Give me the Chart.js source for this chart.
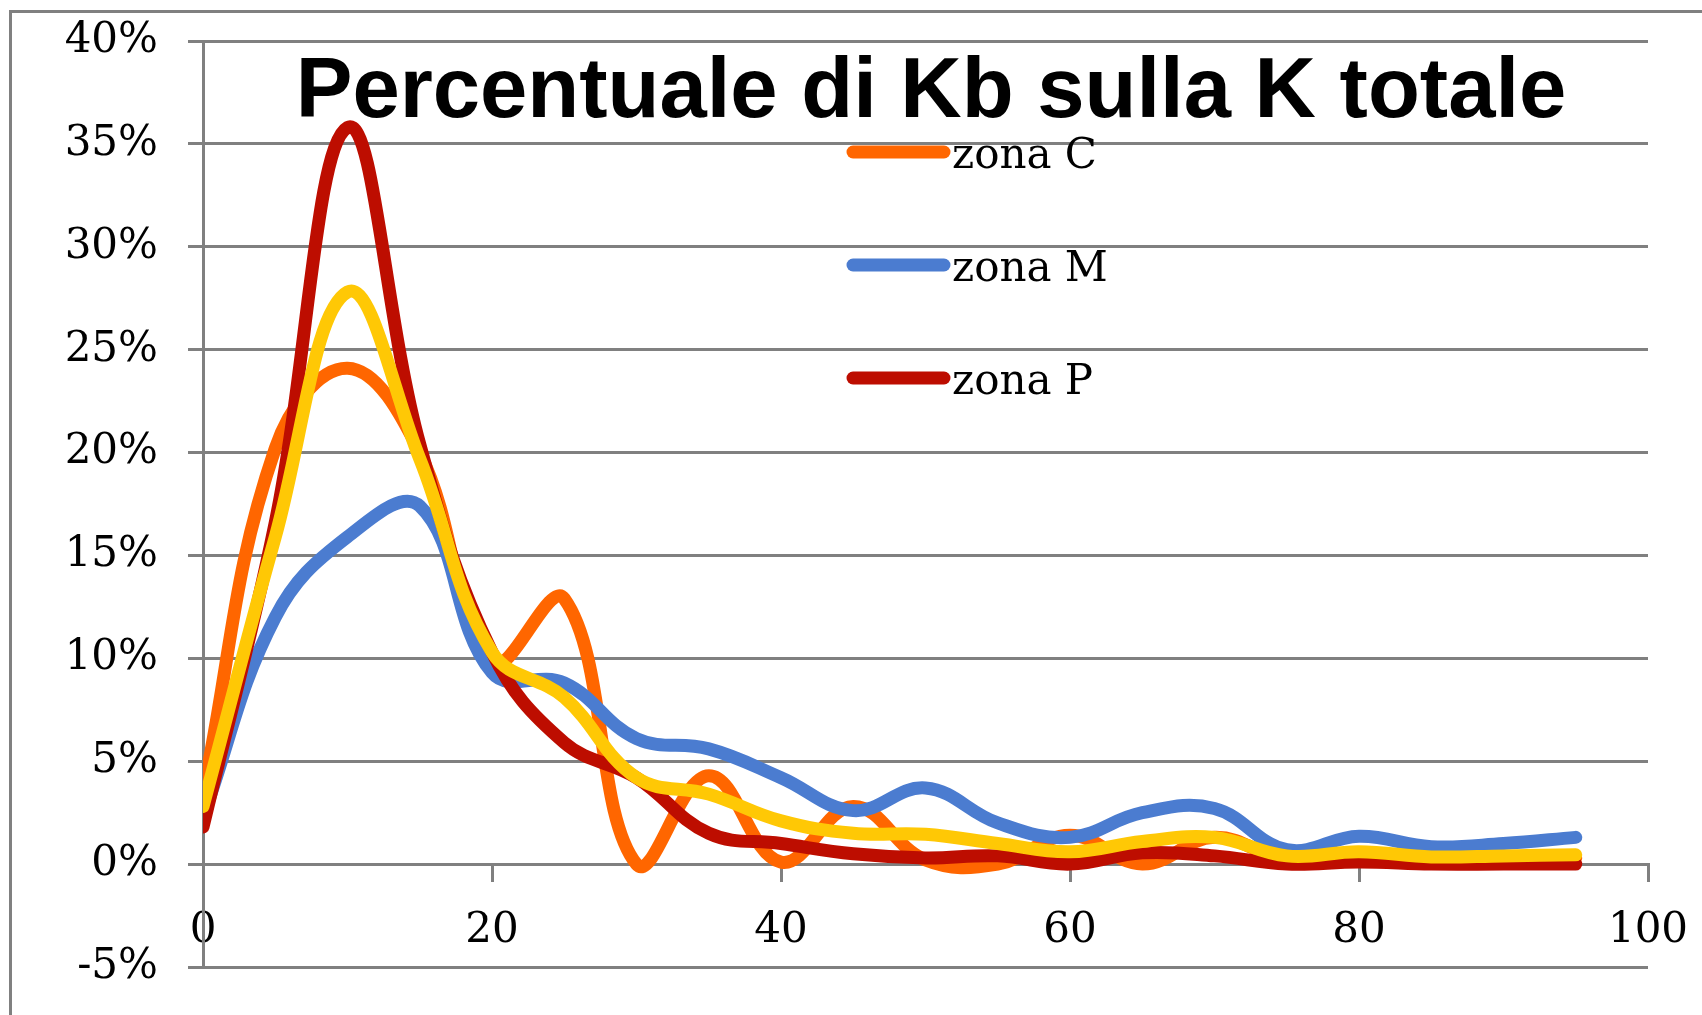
<!DOCTYPE html>
<html>
<head>
<meta charset="utf-8">
<script src="https://cdn.jsdelivr.net/npm/chart.js@4.4.1/dist/chart.umd.min.js"></script>
<style>
  html, body { margin: 0; padding: 0; background: #fff; overflow: hidden; }
  #wrap { position: relative; width: 1702px; height: 1015px; overflow: hidden; }
  #frame { position: absolute; left: 9px; top: 10px; width: 1800px; height: 1100px; border: 3px solid #808080; }
  #c { position: absolute; left: 0; top: 0; }
</style>
</head>
<body>
<div id="wrap">
  <div id="frame"></div>
  <canvas id="c" width="1702" height="1015"></canvas>
</div>
<script>
// data (percent)
const xValues = [0, 5, 10, 15, 20, 25, 30, 35, 40, 45, 50, 55, 60, 65, 70, 75, 80, 85, 90, 95];
const zonaC   = [3.5, 20.2, 24.1, 20.0, 9.8, 12.9, 0.0, 4.3, 0.1, 2.8, 0.2, 0.0, 1.4, 0.0, 1.3, 0.2, 0.3, 0.3, 0.3, 0.3];
const zonaM   = [2.3, 12.0, 15.9, 17.4, 9.3, 8.8, 6.1, 5.6, 4.2, 2.6, 3.7, 2.0, 1.3, 2.5, 2.7, 0.7, 1.35, 0.85, 1.0, 1.3];
const zonaP   = [1.8, 16.6, 35.8, 20.4, 10.3, 5.9, 4.2, 1.5, 1.0, 0.5, 0.3, 0.4, 0.0, 0.55, 0.4, 0.0, 0.1, 0.0, 0.0, 0.0];
const totale  = [2.8, 15.9, 27.8, 19.7, 10.3, 8.1, 4.2, 3.4, 2.1, 1.5, 1.45, 1.0, 0.6, 1.1, 1.3, 0.4, 0.6, 0.35, 0.4, 0.45];

const seriesNames  = ['zona C', 'zona M', 'zona P', 'totale'];
const seriesColors = ['#ff6600', '#4b7cd0', '#bd0d00', '#ffc805'];
const inLegend     = [true, true, true, false];
const chartTitle   = 'Percentuale di Kb sulla K totale';

const yTicks = { min: -5, max: 40, step: 5 };
const xTicks = { min: 0, max: 100, step: 20 };

const GRID = '#808080';
const SERIF = '"DejaVu Serif", "Liberation Serif", serif';
const FONT_SIZE = 42;

function pts(ys) { return xValues.map((x, i) => ({ x: x, y: ys[i] })); }

const allSeries = [zonaC, zonaM, zonaP, totale];
const datasets = allSeries.map((ys, i) => ({
  label: seriesNames[i],
  data: pts(ys),
  borderColor: seriesColors[i],
  backgroundColor: seriesColors[i],
  borderWidth: 13,
  borderCapStyle: 'round',
  borderJoinStyle: 'round',
  pointRadius: 0,
  tension: 0.4,
  fill: false,
  order: allSeries.length - i   // last series on top
}));

const titlePlugin = {
  id: 'plotTitle',
  afterDraw(chart) {
    const ctx = chart.ctx, a = chart.chartArea;
    ctx.save();
    ctx.font = 'bold 85px "Liberation Sans", Arial, sans-serif';
    ctx.fillStyle = '#000';
    ctx.textAlign = 'center';
    ctx.textBaseline = 'alphabetic';
    ctx.fillText(chartTitle, a.left + 728, a.top + 76);
    ctx.restore();
  }
};

const legendPlugin = {
  id: 'innerLegend',
  afterDatasetsDraw(chart) {
    const ctx = chart.ctx;
    let row = 0;
    ctx.save();
    chart.data.datasets.forEach((ds, i) => {
      if (!inLegend[i]) return;
      const y = 152 + row * 113;
      ctx.strokeStyle = ds.borderColor;
      ctx.lineWidth = 13;
      ctx.lineCap = 'round';
      ctx.beginPath();
      ctx.moveTo(853, y);
      ctx.lineTo(944, y);
      ctx.stroke();
      ctx.fillStyle = '#000';
      ctx.font = FONT_SIZE + 'px ' + SERIF;
      ctx.textAlign = 'left';
      ctx.textBaseline = 'alphabetic';
      ctx.fillText(ds.label, 952, y + 16);
      row++;
    });
    ctx.restore();
  }
};

new Chart(document.getElementById('c'), {
  type: 'line',
  data: { datasets },
  options: {
    responsive: false,
    animation: false,
    devicePixelRatio: 1,
    layout: { padding: { top: 41, left: 0, right: 54, bottom: 48 } },
    plugins: { legend: { display: false }, tooltip: { enabled: false }, title: { display: false } },
    scales: {
      x: {
        type: 'linear',
        position: { y: 0 },
        min: xTicks.min, max: xTicks.max,
        ticks: { stepSize: xTicks.step, color: '#000', padding: 26, font: { family: SERIF, size: FONT_SIZE } },
        grid: { drawOnChartArea: false, drawTicks: true, tickLength: 16, color: GRID, lineWidth: 3 },
        border: { display: true, color: GRID, width: 3 },
        afterFit(scale) { scale.paddingLeft = 0; scale.paddingRight = 0; }
      },
      y: {
        min: yTicks.min, max: yTicks.max,
        ticks: { stepSize: yTicks.step, color: '#000', padding: 30, font: { family: SERIF, size: FONT_SIZE },
                 callback: v => v + '%' },
        grid: { color: GRID, lineWidth: 3, tickLength: 15 },
        border: { display: true, color: GRID, width: 3 },
        afterFit(scale) { scale.width = 203; scale.paddingTop = 0; scale.paddingBottom = 0; }
      }
    }
  },
  plugins: [titlePlugin, legendPlugin]
});
</script>
</body>
</html>
